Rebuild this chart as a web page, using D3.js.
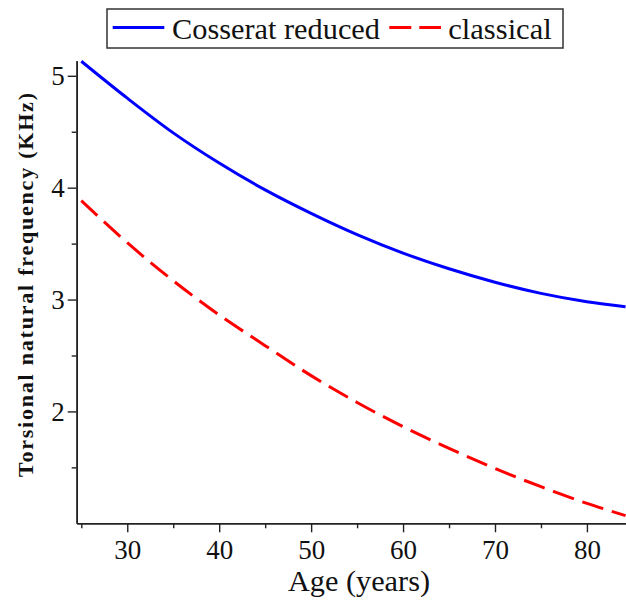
<!DOCTYPE html>
<html><head><meta charset="utf-8">
<script src="https://cdn.jsdelivr.net/npm/d3@7"></script>
<style>body{margin:0;background:#fff}svg{display:block}
svg text{font-family:'Liberation Serif','Times New Roman',serif}</style>
</head><body><svg id="c" width="626" height="601"></svg>
<script>
const ages = [25,30,35,40,45,50,55,60,65,70,75,80,84.2];
const cosserat = [5.13,4.80,4.49,4.22,3.98,3.77,3.58,3.415,3.275,3.155,3.055,2.98,2.935];
const classical = [3.884,3.508,3.168,2.862,2.588,2.32,2.08,1.864,1.67,1.49,1.327,1.178,1.069];
const xTicks = [30,40,50,60,70,80];
const xMinor = [25,35,45,55,65,75];
const yTicks = [2,3,4,5];
const yMinor = [1.5,2.5,3.5,4.5];
const seriesNames = ["Cosserat reduced","classical"];
const seriesColors = ["#0000ff","#ff0000"];
const xTitle = "Age (years)";
const yTitle = "Torsional natural frequency (KHz)";

const svg = d3.select("#c");
const font = "'Liberation Serif','Times New Roman',serif";
const axisColor = "#222";

const x = d3.scaleLinear().domain([24.5, 84.25]).range([76.7, 626]);
const y = d3.scaleLinear().domain([1, 5.135]).range([523.3, 60.7]);

function styleAxis(g){
  g.attr("font-family", font).attr("font-size", 27);
  g.select(".domain").attr("stroke", axisColor).attr("stroke-width", 1.6);
  g.selectAll(".tick line").attr("stroke", axisColor).attr("stroke-width", 1.4);
  g.selectAll(".tick text").attr("fill", "#111").attr("font-family", font).style("font-family", font).style("font-size", "27px");
}

// minor ticks
svg.append("g").attr("transform", "translate(0,523.3)")
  .call(d3.axisBottom(x).tickValues(xMinor).tickSize(5).tickSizeOuter(0).tickFormat(""))
  .call(styleAxis);
svg.append("g").attr("transform", "translate(76.7,0)")
  .call(d3.axisLeft(y).tickValues(yMinor).tickSize(5).tickSizeOuter(0).tickFormat(""))
  .call(styleAxis);
// major ticks
svg.append("g").attr("transform", "translate(0,523.3)")
  .call(d3.axisBottom(x).tickValues(xTicks).tickSize(9).tickSizeOuter(0).tickPadding(8).tickFormat(d3.format("d")))
  .call(styleAxis);
svg.append("g").attr("transform", "translate(76.7,0)")
  .call(d3.axisLeft(y).tickValues(yTicks).tickSize(9).tickSizeOuter(0).tickPadding(3).tickFormat(d3.format("d")))
  .call(styleAxis);

// lines
const data = [cosserat, classical];
const line = d3.line().x((d,i) => x(ages[i])).y(d => y(d)).curve(d3.curveCatmullRom.alpha(0.5));
svg.append("defs").append("clipPath").attr("id","clip")
  .append("rect").attr("x", 76.7).attr("y", 50).attr("width", 560).attr("height", 474);
data.forEach((s, k) => {
  svg.append("path").datum(s)
    .attr("clip-path","url(#clip)")
    .attr("d", line)
    .attr("fill", "none")
    .attr("stroke", seriesColors[k])
    .attr("stroke-width", 3)
    .attr("stroke-dasharray", k === 1 ? "22,9" : null);
});

// axis titles
svg.append("text").attr("x", 359).attr("y", 591)
  .attr("text-anchor", "middle")
  .attr("textLength", 142).attr("lengthAdjust", "spacingAndGlyphs")
  .style("font-family", font).style("font-size", "29px").attr("fill", "#111")
  .text(xTitle);
svg.append("text").attr("transform", "translate(33,285) rotate(-90)")
  .attr("text-anchor", "middle")
  .attr("textLength", 384).attr("lengthAdjust", "spacing")
  .style("font-family", font).style("font-size", "22px").style("font-weight", "bold").attr("fill", "#111")
  .text(yTitle);

// legend
const lg = svg.append("g");
lg.append("rect").attr("x", 107).attr("y", 9).attr("width", 456).attr("height", 39)
  .attr("fill", "#fff").attr("stroke", "#333").attr("stroke-width", 1.5);
const legendItems = [
  {x1: 112.7, x2: 164.3, tx: 172, tw: 208},
  {x1: 389.3, x2: 441, tx: 448.3, tw: 103.4}
];
legendItems.forEach((it, k) => {
  lg.append("line").attr("x1", it.x1).attr("x2", it.x2).attr("y1", 27.5).attr("y2", 27.5)
    .attr("stroke", seriesColors[k]).attr("stroke-width", 3)
    .attr("stroke-dasharray", k === 1 ? "22,8" : null);
  lg.append("text").attr("x", it.tx).attr("y", 39)
    .attr("textLength", it.tw).attr("lengthAdjust", "spacingAndGlyphs")
    .style("font-family", font).style("font-size", "29px").attr("fill", "#111")
    .text(seriesNames[k]);
});
</script>
</body></html>
